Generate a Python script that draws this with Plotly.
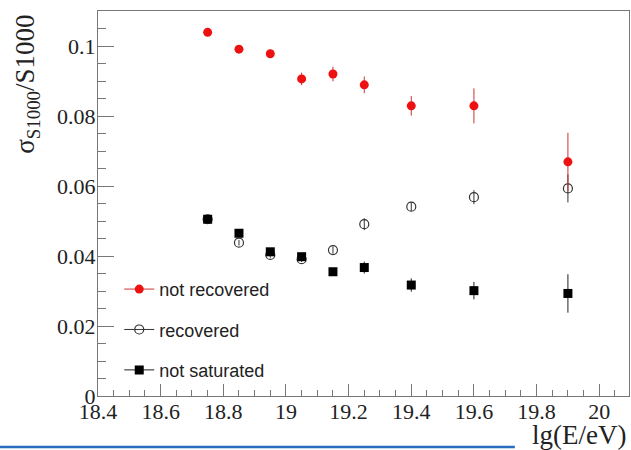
import plotly.graph_objects as go

# Relative S1000 uncertainty versus shower energy, three station classes
energy = [18.75, 18.85, 18.95, 19.05, 19.15, 19.25, 19.4, 19.6, 19.9]

not_recovered = [0.1039, 0.0991, 0.0978, 0.0906, 0.0920, 0.0889, 0.0829, 0.0829, 0.0669]
not_recovered_err = [0.0008, 0.0009, 0.0010, 0.0018, 0.0021, 0.0024, 0.0028, 0.0050, 0.0083]

recovered = [0.0505, 0.0438, 0.0403, 0.0391, 0.0417, 0.0491, 0.0541, 0.0568, 0.0593]
recovered_err = [0.0008, 0.0008, 0.0008, 0.0008, 0.0010, 0.0017, 0.0012, 0.0020, 0.0040]

not_saturated = [0.0505, 0.0465, 0.0412, 0.0398, 0.0355, 0.0367, 0.0317, 0.0301, 0.0293]
not_saturated_err = [0.0008, 0.0008, 0.0008, 0.0010, 0.0010, 0.0017, 0.0019, 0.0025, 0.0055]

x_ticks = [18.4, 18.6, 18.8, 19.0, 19.2, 19.4, 19.6, 19.8, 20.0]
x_tick_labels = ["18.4", "18.6", "18.8", "19", "19.2", "19.4", "19.6", "19.8", "20"]
y_ticks = [0, 0.02, 0.04, 0.06, 0.08, 0.1]
y_tick_labels = ["0", "0.02", "0.04", "0.06", "0.08", "0.1"]

RED = "#ee1111"
DARK = "#222222"
SERIF = "Liberation Serif, Times New Roman, serif"
SANS = "Liberation Sans, Arial, sans-serif"

series = [
    ("recovered", recovered, recovered_err,
     dict(symbol="circle-open", size=9, color="#333333", line=dict(width=1.2, color="#333333")), "#333333"),
    ("not saturated", not_saturated, not_saturated_err,
     dict(symbol="square", size=9, color="black"), "#222222"),
    ("not recovered", not_recovered, not_recovered_err,
     dict(symbol="circle", size=9, color=RED), "#cc3333"),
]

fig = go.Figure()

for name, vals, errs, marker, ecol in series:
    fig.add_trace(go.Scatter(
        x=energy, y=vals, mode="markers", marker=marker, showlegend=False,
        error_y=dict(type="data", array=errs, visible=True, thickness=1, width=0, color=ecol),
    ))

# Legend keys: marker with a short line through it
legend_order = ["not recovered", "recovered", "not saturated"]
lookup = {s[0]: s for s in series}
for i, name in enumerate(legend_order):
    _, _, _, marker, ecol = lookup[name]
    fig.add_trace(go.Scatter(
        x=[None], y=[None], mode="lines+markers", name=name,
        marker=marker, line=dict(color=ecol, width=1),
        legendgroup=name, legendrank=i + 1,
    ))

axis_common = dict(
    showline=True, linecolor="#777777", linewidth=1, mirror=True,
    ticks="inside", tickcolor="#777777", tickwidth=1,
    showgrid=False, zeroline=False,
    tickfont=dict(family=SERIF, size=22, color=DARK),
)

fig.update_xaxes(
    range=[18.4, 20.095], tickvals=x_ticks, ticktext=x_tick_labels, ticklen=12,
    minor=dict(dtick=0.05, tick0=18.4, ticks="inside", ticklen=6, tickcolor="#777777", showgrid=False),
    ticklabelstandoff=-4,
    **axis_common,
)
fig.update_yaxes(
    range=[0, 0.11], tickvals=y_ticks, ticktext=y_tick_labels, ticklen=16,
    minor=dict(dtick=0.005, tick0=0, ticks="inside", ticklen=8, tickcolor="#777777", showgrid=False),
    ticklabelstandoff=-3,
    **axis_common,
)

fig.add_annotation(
    text="σ<sub>S1000</sub>/S1000", xref="paper", yref="paper",
    x=-0.133, y=0.995, xanchor="center", yanchor="top", textangle=-90,
    showarrow=False, font=dict(family=SERIF, size=27, color=DARK),
)
fig.add_annotation(
    text="lg(E/eV)", xref="paper", yref="paper",
    x=0.998, y=-0.058, xanchor="right", yanchor="top",
    showarrow=False, font=dict(family=SERIF, size=27, color=DARK),
)

# thin blue rule along the bottom edge of the page
fig.add_shape(
    type="line", xref="paper", yref="paper",
    x0=-0.1846, x1=0.785, y0=-0.1325, y1=-0.1325,
    line=dict(color="#2a6cc0", width=2.5),
)

fig.update_layout(
    width=631, height=450,
    margin=dict(l=98, r=2, t=11, b=54),
    paper_bgcolor="white", plot_bgcolor="white",
    legend=dict(
        x=0.04, y=0.325, xanchor="left", yanchor="top",
        bgcolor="rgba(0,0,0,0)", borderwidth=0,
        font=dict(family=SANS, size=18, color=DARK),
        traceorder="grouped", tracegroupgap=14, itemwidth=30,
    ),
)

fig.write_html("out.html")
